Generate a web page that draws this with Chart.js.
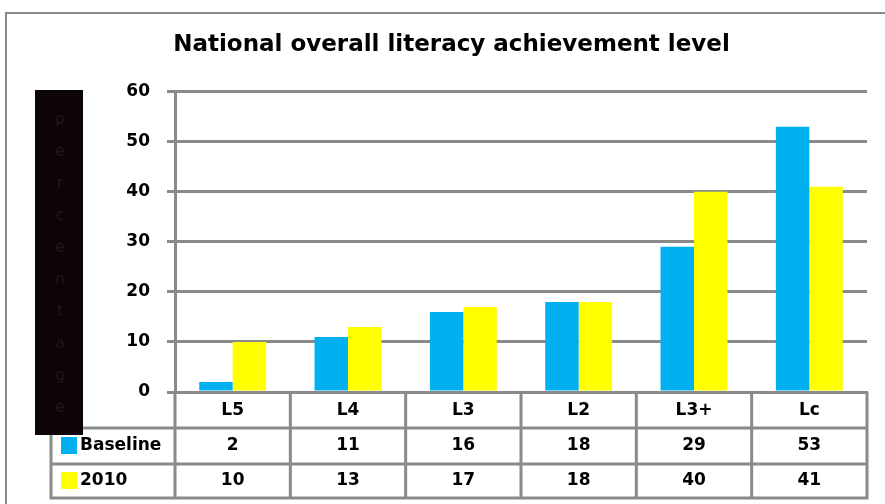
<!DOCTYPE html>
<html>
<head>
<meta charset="utf-8">
<script src="https://cdn.jsdelivr.net/npm/chart.js@4"></script>
<style>
  html, body { margin: 0; padding: 0; background: #fff; overflow: hidden; }
  #wrap { width: 885px; height: 504px; position: relative; }
</style>
</head>
<body>
<div id="wrap"><canvas id="literacyChart" width="885" height="504"></canvas></div>
<script>
// Data
const categories = ['L5', 'L4', 'L3', 'L2', 'L3+', 'Lc'];
const baselineValues = [2, 11, 16, 18, 29, 53];
const values2010 = [10, 13, 17, 18, 40, 41];
const seriesNames = ['Baseline', '2010'];
const yTicks = [0, 10, 20, 30, 40, 50, 60];
const chartTitle = 'National overall literacy achievement level';
const yTitle = 'percentage';

const colors = {
  baseline: '#00B0F0',
  y2010: '#FFFF00',
  grid: '#8a8a8a',
  text: '#000000'
};
const fontFamily = "'DejaVu Sans', Verdana, sans-serif";

// Frame, black y-title block and the data table below the plot
const tablePlugin = {
  id: 'tablePlugin',
  beforeDraw(chart) {
    const ctx = chart.ctx;
    ctx.save();
    ctx.strokeStyle = colors.grid;
    ctx.lineWidth = 2;
    ctx.beginPath();
    ctx.moveTo(6, 504);
    ctx.lineTo(6, 13);
    ctx.lineTo(885, 13);
    ctx.stroke();
    ctx.restore();
  },
  afterDraw(chart) {
    const ctx = chart.ctx;
    const x = chart.scales.x;
    const area = chart.chartArea;
    const top = area.bottom;
    const rowLines = [top + 36, top + 72, top + 106];
    const tableLeft = 51;
    const rows = [
      { name: seriesNames[0], data: baselineValues, color: colors.baseline },
      { name: seriesNames[1], data: values2010, color: colors.y2010 }
    ];
    ctx.save();

    // table lines
    ctx.strokeStyle = colors.grid;
    ctx.lineWidth = 3;
    ctx.beginPath();
    rowLines.forEach(y => {
      ctx.moveTo(tableLeft - 1.5, y);
      ctx.lineTo(area.right + 1.5, y);
    });
    ctx.moveTo(tableLeft, rowLines[0]);
    ctx.lineTo(tableLeft, rowLines[2]);
    for (let i = 0; i <= categories.length; i++) {
      const px = area.left + (area.right - area.left) * i / categories.length;
      ctx.moveTo(px, top);
      ctx.lineTo(px, rowLines[2]);
    }
    ctx.stroke();

    // header labels and values
    ctx.fillStyle = colors.text;
    ctx.font = 'bold 17px ' + fontFamily;
    ctx.textAlign = 'center';
    ctx.textBaseline = 'middle';
    categories.forEach((c, i) => {
      ctx.fillText(c, x.getPixelForValue(i), top + 19);
    });
    rows.forEach((row, r) => {
      const cy = (rowLines[r] + rowLines[r + 1]) / 2;
      row.data.forEach((v, i) => {
        ctx.fillText(String(v), x.getPixelForValue(i), cy);
      });
      ctx.fillStyle = row.color;
      ctx.fillRect(61, cy - 9, 16, 17);
      ctx.fillStyle = colors.text;
      ctx.textAlign = 'left';
      ctx.fillText(row.name, 80, cy);
      ctx.textAlign = 'center';
    });

    // black y-axis title block
    ctx.fillStyle = '#0c0408';
    ctx.fillRect(35, 90, 48, 345);
    ctx.fillStyle = '#1e1a18';
    ctx.font = '15px ' + fontFamily;
    yTitle.split('').forEach((ch, i) => {
      ctx.fillText(ch, 60, 120 + i * 32);
    });
    ctx.restore();
  }
};

const ctx = document.getElementById('literacyChart').getContext('2d');
new Chart(ctx, {
  type: 'bar',
  data: {
    labels: categories,
    datasets: [
      {
        label: seriesNames[0],
        data: baselineValues,
        backgroundColor: colors.baseline,
        categoryPercentage: 0.58,
        barPercentage: 1.0
      },
      {
        label: seriesNames[1],
        data: values2010,
        backgroundColor: colors.y2010,
        categoryPercentage: 0.58,
        barPercentage: 1.0
      }
    ]
  },
  options: {
    responsive: false,
    animation: false,
    layout: { padding: { left: 36, right: 18, top: 0, bottom: 0 } },
    plugins: {
      legend: { display: false },
      tooltip: { enabled: false },
      title: {
        display: true,
        text: chartTitle,
        color: colors.text,
        font: { family: fontFamily, size: 23, weight: 'bold' },
        padding: { top: 31, bottom: 33 }
      }
    },
    scales: {
      x: {
        ticks: { display: false },
        grid: { display: false },
        border: { display: true, color: colors.grid, width: 3 },
        afterFit(scale) { scale.height = 112; }
      },
      y: {
        min: 0,
        max: 60,
        afterBuildTicks(scale) { scale.ticks = yTicks.map(v => ({ value: v })); },
        ticks: {
          color: colors.text,
          padding: 17,
          font: { family: fontFamily, size: 17, weight: 'bold' }
        },
        grid: { color: colors.grid, lineWidth: 3, tickLength: 8 },
        border: { display: true, color: colors.grid, width: 3 },
        afterFit(scale) { scale.width = 139; }
      }
    }
  },
  plugins: [tablePlugin]
});
</script>
</body>
</html>
